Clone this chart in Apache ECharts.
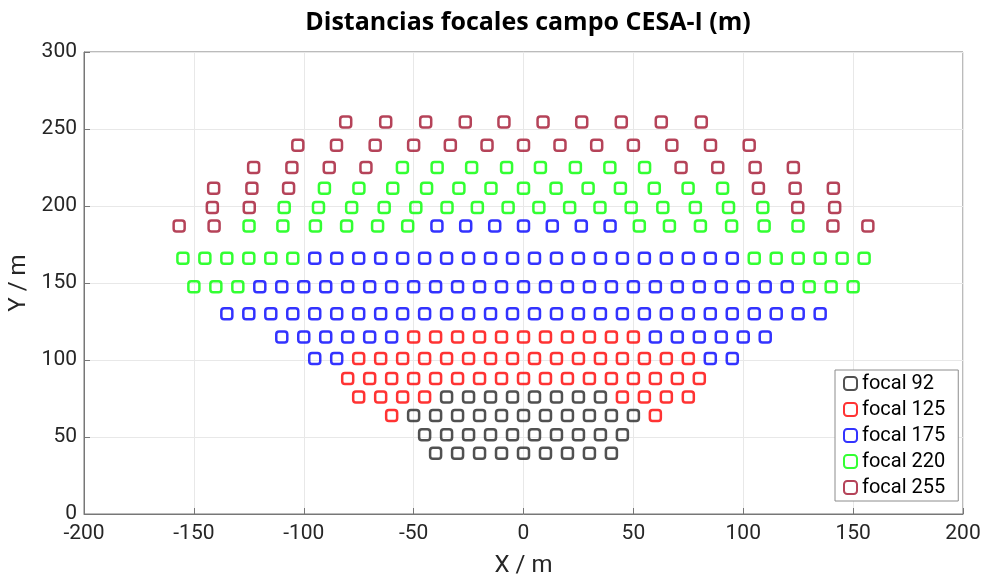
<!DOCTYPE html>
<html>
<head>
<meta charset="utf-8">
<script src="https://cdn.jsdelivr.net/npm/echarts@6/dist/echarts.min.js"></script>
<style>
  html, body { margin: 0; padding: 0; background: #fff; }
  #chart { width: 987px; height: 578px; }
</style>
</head>
<body>
<div id="chart"></div>
<script>
// Heliostat rows: [y, [x positions]] for each focal-length group (metres)
const focal92Rows = [
  [39.5, [-40, -30, -20, -10, 0, 10, 20, 30, 40]],
  [51.5, [-45, -35, -25, -15, -5, 5, 15, 25, 35, 45]],
  [64,   [-50, -40, -30, -20, -10, 0, 10, 20, 30, 40, 50]],
  [76,   [-35, -25, -15, -5, 5, 15, 25, 35]]
];
const focal125Rows = [
  [64,  [-60, 60]],
  [76,  [-75, -65, -55, -45, 45, 55, 65, 75]],
  [88,  [-80, -70, -60, -50, -40, -30, -20, -10, 0, 10, 20, 30, 40, 50, 60, 70, 80]],
  [101, [-75, -65, -55, -45, -35, -25, -15, -5, 5, 15, 25, 35, 45, 55, 65, 75]],
  [115, [-50, -40, -30, -20, -10, 0, 10, 20, 30, 40, 50]]
];
const focal175Rows = [
  [101,   [-95, -85, 85, 95]],
  [115,   [-110, -100, -90, -80, -70, -60, 60, 70, 80, 90, 100, 110]],
  [130,   [-135, -125, -115, -105, -95, -85, -75, -65, -55, -45, -35, -25, -15, -5,
           5, 15, 25, 35, 45, 55, 65, 75, 85, 95, 105, 115, 125, 135]],
  [147.5, [-120, -110, -100, -90, -80, -70, -60, -50, -40, -30, -20, -10, 0,
           10, 20, 30, 40, 50, 60, 70, 80, 90, 100, 110, 120]],
  [166,   [-95, -85, -75, -65, -55, -45, -35, -25, -15, -5, 5, 15, 25, 35, 45, 55, 65, 75, 85, 95]],
  [187,   [-39.4, -26.3, -13.1, 0, 13.1, 26.3, 39.4]]
];
const focal220Rows = [
  [147.5, [-150, -140, -130, 130, 140, 150]],
  [166,   [-155, -145, -135, -125, -115, -105, 105, 115, 125, 135, 145, 155]],
  [187,   [-124.9, -109.5, -94.7, -80.5, -66.4, -52.7, 52.7, 66.4, 80.5, 94.7, 109.5, 124.9]],
  [199,   [-108.9, -93.3, -78.2, -63.4, -49, -34.8, -21, -7, 7, 21, 34.8, 49, 63.4, 78.2, 93.3, 108.9]],
  [211.5, [-90.6, -74.9, -59.5, -44.1, -29.4, -14.8, 0, 14.8, 29.4, 44.1, 59.5, 74.9, 90.6]],
  [225,   [-55.1, -39.3, -23.6, -7.7, 7.7, 23.6, 39.3, 55.1]]
];
const focal255Rows = [
  [187,   [-156.7, -140.8, 140.8, 156.7]],
  [199,   [-141.6, -124.8, 124.8, 141.6]],
  [211.5, [-141, -123.6, -106.9, 106.9, 123.6, 141]],
  [225,   [-122.8, -105.4, -88.4, -71.7, 71.7, 88.4, 105.4, 122.8]],
  [239.5, [-102.7, -85.1, -67.5, -50, -33.3, -16.6, 0, 16.6, 33.3, 50, 67.5, 85.1, 102.7]],
  [254.5, [-80.9, -62.7, -44.5, -26.5, -8.9, 8.9, 26.5, 44.5, 62.7, 80.9]]
];

const seriesNames = ['focal 92', 'focal 125', 'focal 175', 'focal 220', 'focal 255'];
const seriesColors = ['#262626', '#ff0000', '#0000ff', '#00ff00', '#a2142f'];
const xTicks = [-200, -150, -100, -50, 0, 50, 100, 150, 200];
const yTicks = [0, 50, 100, 150, 200, 250, 300];

function toPoints(rows) {
  const pts = [];
  rows.forEach(([y, xs]) => xs.forEach(x => pts.push([x, y])));
  return pts;
}

const groups = [focal92Rows, focal125Rows, focal175Rows, focal220Rows, focal255Rows];
const FONT = 'Roboto, "DejaVu Sans", sans-serif';
const TITLE_FONT = '"Open Sans", Roboto, sans-serif';

const chart = echarts.init(document.getElementById('chart'), null, { renderer: 'canvas' });

const axisCommon = {
  axisLine: { show: true, onZero: false, lineStyle: { color: '#777', width: 1 } },
  axisTick: { show: true, inside: true, length: 6, lineStyle: { color: '#777' } },
  splitLine: { show: true, lineStyle: { color: '#e8e8e8', width: 1 } },
  axisLabel: { color: '#262626', fontFamily: FONT, fontSize: 21 },
  nameTextStyle: { color: '#262626', fontFamily: FONT, fontSize: 24 }
};

chart.setOption({
  animation: false,
  backgroundColor: '#ffffff',
  title: {
    text: 'Distancias focales campo CESA-I (m)',
    left: 523, top: 5, textAlign: 'center',
    textStyle: { fontFamily: TITLE_FONT, fontSize: 25, fontWeight: 'bold', color: '#000' }
  },
  grid: {
    left: 84, right: 24, top: 52, bottom: 64,
    outerBoundsMode: 'none', containLabel: false,
    show: true, borderColor: '#777', borderWidth: 1
  },
  xAxis: Object.assign({}, axisCommon, {
    type: 'value', min: xTicks[0], max: xTicks[xTicks.length - 1], interval: 50,
    name: 'X / m', nameLocation: 'middle', nameGap: 40,
    axisLabel: Object.assign({}, axisCommon.axisLabel, { margin: 9 })
  }),
  yAxis: Object.assign({}, axisCommon, {
    type: 'value', min: yTicks[0], max: yTicks[yTicks.length - 1], interval: 50,
    name: 'Y / m', nameLocation: 'middle', nameGap: 50, nameRotate: 90,
    axisLabel: Object.assign({}, axisCommon.axisLabel, { margin: 7 })
  }),
  legend: {
    orient: 'vertical',
    left: 835, top: 370,
    padding: [2, 13, 2, 8],
    itemGap: 3,
    itemWidth: 13, itemHeight: 13,
    backgroundColor: '#ffffff',
    borderColor: '#8c8c8c', borderWidth: 1,
    textStyle: { fontFamily: FONT, fontSize: 20, color: '#000', lineHeight: 23 },
    data: seriesNames
  },
  series: groups.map((rows, i) => ({
    name: seriesNames[i],
    type: 'scatter',
    symbol: 'roundRect',
    symbolSize: 11,
    data: toPoints(rows),
    itemStyle: { color: 'rgba(255,255,255,0)', borderColor: seriesColors[i], borderWidth: 2.5 },
    emphasis: { disabled: true }
  }))
});
</script>
</body>
</html>
